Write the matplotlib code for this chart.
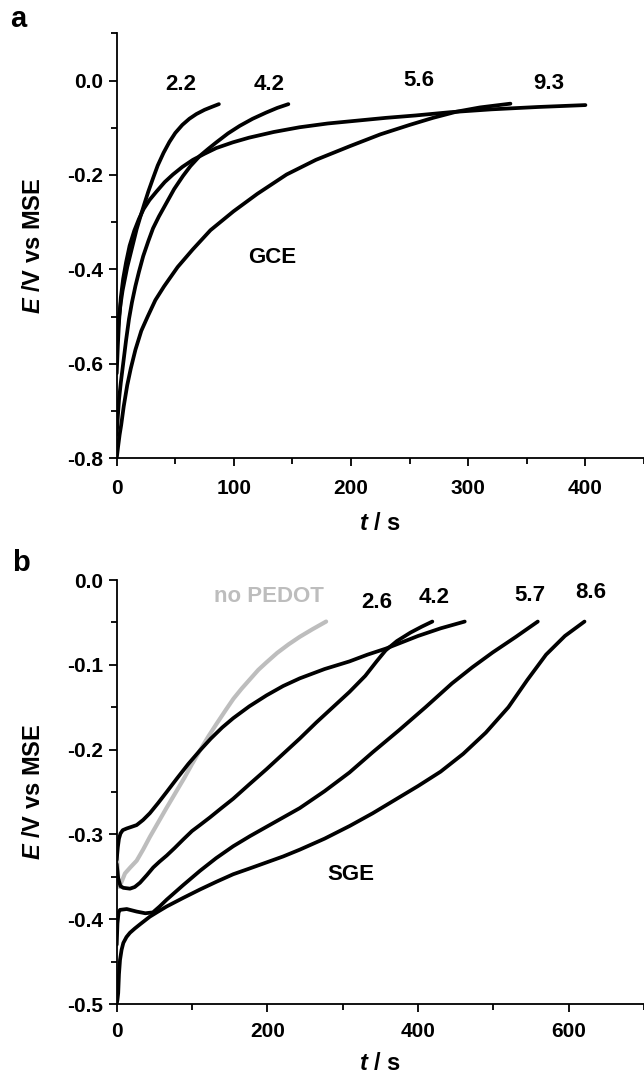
import matplotlib
matplotlib.use("Agg")
import matplotlib.pyplot as plt
from matplotlib.ticker import MultipleLocator

plt.rcParams['font.family'] = ['Liberation Sans', 'DejaVu Sans']
plt.rcParams['font.weight'] = 'bold'
plt.rcParams['mathtext.fontset'] = 'custom'
plt.rcParams['mathtext.bfit'] = 'Liberation Sans:italic:bold'
plt.rcParams['mathtext.it'] = 'Liberation Sans:italic:bold'
plt.rcParams['mathtext.rm'] = 'Liberation Sans:bold'

# ---------------- Panel a (GCE) ----------------
a_t_22 = [0, 1, 2, 3.5, 5, 7, 9, 11.5, 14, 17, 20, 23.5, 27, 31, 35, 40, 45, 50, 56, 62, 68, 75, 81, 87.2]
a_E_22 = [-0.56, -0.53, -0.50, -0.47, -0.445, -0.42, -0.395, -0.37, -0.345, -0.315, -0.29, -0.262,
          -0.235, -0.207, -0.18, -0.153, -0.130, -0.111, -0.094, -0.081, -0.071, -0.062, -0.056, -0.050]

a_t_42 = [0, 1, 2, 3.5, 5.5, 8, 10.5, 13, 16, 19, 22.6, 27, 31, 36, 42.5, 49, 56.6, 63, 70.8, 78, 85,
          95, 105, 116, 127.4, 137, 146.5]
a_E_42 = [-0.75, -0.71, -0.675, -0.64, -0.60, -0.55, -0.505, -0.47, -0.435, -0.405, -0.372, -0.34,
          -0.313, -0.288, -0.259, -0.23, -0.202, -0.181, -0.160, -0.145, -0.131, -0.112, -0.096,
          -0.081, -0.068, -0.058, -0.050]

a_t_56 = [0, 1.2, 2.5, 3.8, 6, 9, 12, 16, 21, 26.4, 33, 40.4, 52, 64.8, 80, 99.7, 120, 145, 170, 199,
          225, 250, 270, 290, 310, 336]
a_E_56 = [-0.80, -0.775, -0.75, -0.73, -0.69, -0.645, -0.61, -0.57, -0.53, -0.50, -0.465, -0.436,
          -0.395, -0.358, -0.317, -0.277, -0.24, -0.199, -0.168, -0.139, -0.114, -0.094, -0.079,
          -0.066, -0.057, -0.049]

a_t_93 = [0, 1, 2, 3.5, 5.5, 8, 11, 15, 19, 23, 28, 34, 41, 48, 56, 65, 75, 85, 99, 113, 134, 156,
          180, 205, 230, 255, 285, 320, 360, 400]
a_E_93 = [-0.62, -0.56, -0.51, -0.46, -0.42, -0.385, -0.35, -0.318, -0.293, -0.272, -0.253, -0.235,
          -0.215, -0.199, -0.183, -0.168, -0.155, -0.143, -0.131, -0.121, -0.109, -0.099, -0.091,
          -0.085, -0.079, -0.074, -0.067, -0.061, -0.056, -0.052]

a_labels = ["2.2", "4.2", "5.6", "9.3"]
a_label_t = [55, 130, 258, 369]
a_label_E = [-0.008, -0.008, 0.0, -0.006]

# ---------------- Panel b (SGE) ----------------
b_t_nop = [0, 1, 2, 3.5, 6, 11, 18, 26.5, 35, 44, 55, 66, 78, 90, 100, 110.5, 122, 133, 145, 155,
           166, 177, 188, 199, 213, 228, 243, 260, 278]
b_E_nop = [-0.320, -0.335, -0.352, -0.362, -0.357, -0.346, -0.339, -0.331, -0.318, -0.303, -0.286,
           -0.269, -0.251, -0.233, -0.217, -0.201, -0.184, -0.169, -0.153, -0.140, -0.128, -0.117,
           -0.106, -0.097, -0.086, -0.076, -0.067, -0.058, -0.049]

b_t_26 = [0, 2, 5, 8.8, 17.6, 24, 30.9, 40, 48.5, 57, 66.3, 77, 88.3, 100, 110.5, 123.7, 139, 154.6,
          176, 199, 221, 243, 265, 287, 309, 330, 345, 357, 372, 390, 405, 419]
b_E_26 = [-0.335, -0.352, -0.361, -0.363, -0.364, -0.362, -0.357, -0.348, -0.339, -0.332, -0.325,
          -0.316, -0.306, -0.296, -0.289, -0.280, -0.269, -0.258, -0.241, -0.223, -0.205, -0.187,
          -0.168, -0.150, -0.132, -0.113, -0.096, -0.083, -0.072, -0.062, -0.055, -0.049]

b_t_42 = [0, 1.5, 3, 5, 8, 13.3, 20, 26.5, 35, 44, 55, 66.3, 80, 95, 110.5, 125, 140, 154.6, 176,
          199, 221, 243, 276, 309, 333, 357, 380, 400, 430, 462]
b_E_42 = [-0.33, -0.315, -0.305, -0.299, -0.295, -0.293, -0.291, -0.289, -0.283, -0.275, -0.263,
          -0.250, -0.234, -0.217, -0.201, -0.187, -0.174, -0.163, -0.149, -0.136, -0.125, -0.116,
          -0.105, -0.096, -0.088, -0.081, -0.073, -0.066, -0.057, -0.049]

b_t_57 = [0, 1, 2.5, 4.4, 13.3, 26.5, 38, 48, 57, 66.3, 88, 110.5, 132, 154.6, 177, 199, 221, 243,
          276, 309, 340, 375, 410, 445, 472, 499, 530, 559]
b_E_57 = [-0.43, -0.405, -0.392, -0.389, -0.388, -0.391, -0.393, -0.392, -0.385, -0.377, -0.360,
          -0.343, -0.328, -0.314, -0.302, -0.291, -0.280, -0.269, -0.249, -0.227, -0.203, -0.177,
          -0.150, -0.122, -0.103, -0.0855, -0.067, -0.049]

b_t_86 = [0, 1, 2, 3, 4.4, 6.5, 8.8, 13, 17.6, 24, 31, 44, 55, 66.3, 88, 110.5, 132, 154.6, 177,
          199, 221, 243, 276, 309.4, 340, 370, 400, 430, 460, 490, 520, 545, 570, 595, 621]
b_E_86 = [-0.50, -0.495, -0.487, -0.465, -0.448, -0.436, -0.428, -0.421, -0.416, -0.411, -0.406,
          -0.397, -0.391, -0.385, -0.375, -0.365, -0.356, -0.347, -0.340, -0.333, -0.326, -0.318,
          -0.305, -0.290, -0.275, -0.259, -0.243, -0.226, -0.205, -0.180, -0.150, -0.118, -0.088,
          -0.066, -0.049]

b_labels = ["2.6", "4.2", "5.7", "8.6"]
b_label_t = [345, 421, 549, 629]
b_label_E = [-0.026, -0.021, -0.018, -0.015]

W, H = 644, 1081
fig = plt.figure(figsize=(W / 100, H / 100), dpi=100)

L = 116.7 / W
axa = fig.add_axes([L, 1 - 458.3 / H, 1.0 - L, (458.3 - 33.3) / H])
axb = fig.add_axes([L, 1 - 1004 / H, 1.0 - L, (1004 - 580) / H])

lw = 2.7
kw = dict(solid_capstyle='round', solid_joinstyle='round')
for t, E in [(a_t_22, a_E_22), (a_t_42, a_E_42), (a_t_56, a_E_56), (a_t_93, a_E_93)]:
    axa.plot(t, E, color='black', lw=lw, **kw)
for lab, tx, ey in zip(a_labels, a_label_t, a_label_E):
    axa.text(tx, ey, lab, fontsize=16, fontweight='bold', ha='center', va='center')
axa.text(133, -0.375, "GCE", fontsize=16, fontweight='bold', ha='center', va='center')

axb.plot(b_t_nop, b_E_nop, color='#bdbdbd', lw=3.0, **kw)
for t, E in [(b_t_26, b_E_26), (b_t_42, b_E_42), (b_t_57, b_E_57), (b_t_86, b_E_86)]:
    axb.plot(t, E, color='black', lw=lw, **kw)
for lab, tx, ey in zip(b_labels, b_label_t, b_label_E):
    axb.text(tx, ey, lab, fontsize=16, fontweight='bold', ha='center', va='center')
axb.text(202, -0.020, "no PEDOT", fontsize=16, fontweight='bold', color='#bdbdbd', ha='center', va='center')
axb.text(311, -0.347, "SGE", fontsize=16, fontweight='bold', ha='center', va='center')

axa.set_xlim(0, 450)
axa.set_ylim(-0.8, 0.1)
axa.xaxis.set_major_locator(MultipleLocator(100))
axa.xaxis.set_minor_locator(MultipleLocator(50))
axa.set_yticks([-0.8, -0.6, -0.4, -0.2, 0.0])
axa.set_yticklabels(["-0.8", "-0.6", "-0.4", "-0.2", "0.0"])
axa.yaxis.set_minor_locator(MultipleLocator(0.1))

axb.set_xlim(0, 700)
axb.set_ylim(-0.5, 0.0)
axb.xaxis.set_major_locator(MultipleLocator(200))
axb.xaxis.set_minor_locator(MultipleLocator(100))
axb.set_yticks([-0.5, -0.4, -0.3, -0.2, -0.1, 0.0])
axb.set_yticklabels(["-0.5", "-0.4", "-0.3", "-0.2", "-0.1", "0.0"])
axb.yaxis.set_minor_locator(MultipleLocator(0.05))

for ax, xpad in [(axa, 9), (axb, 7)]:
    for s in ['top', 'right']:
        ax.spines[s].set_visible(False)
    for s in ['left', 'bottom']:
        ax.spines[s].set_linewidth(1.3)
    ax.tick_params(which='major', direction='out', length=6, width=1.3, labelsize=15)
    ax.tick_params(which='minor', direction='out', length=4, width=1.3)
    ax.tick_params(axis='x', which='major', pad=xpad)
    ax.tick_params(axis='y', which='major', pad=4)
    for lab in ax.get_xticklabels() + ax.get_yticklabels():
        lab.set_fontweight('bold')
    ax.set_ylabel(r"$\mathbfit{E}$ /V vs MSE", fontsize=17, fontweight='bold')
    ax.set_xlabel(r"$\mathbfit{t}$ / s", fontsize=17, fontweight='bold')

axa.yaxis.set_label_coords((33 - 116.7) / (W - 116.7), 0.5)
axb.yaxis.set_label_coords((33 - 116.7) / (W - 116.7), 0.5)
axa.xaxis.set_label_coords(0.5, -(523 - 458.3) / (458.3 - 33.3))
axb.xaxis.set_label_coords(0.5, -(1063 - 1004) / (1004 - 580))
for ax in (axa, axb):
    ax.xaxis.label.set_va('center')
    ax.yaxis.label.set_va('center')

fig.text(10 / W, 1 - 19 / H, "a", fontsize=21, fontweight='bold', ha='left', va='center')
fig.text(12 / W, 1 - 563 / H, "b", fontsize=21, fontweight='bold', ha='left', va='center')

fig.savefig("out.png", dpi=100)
